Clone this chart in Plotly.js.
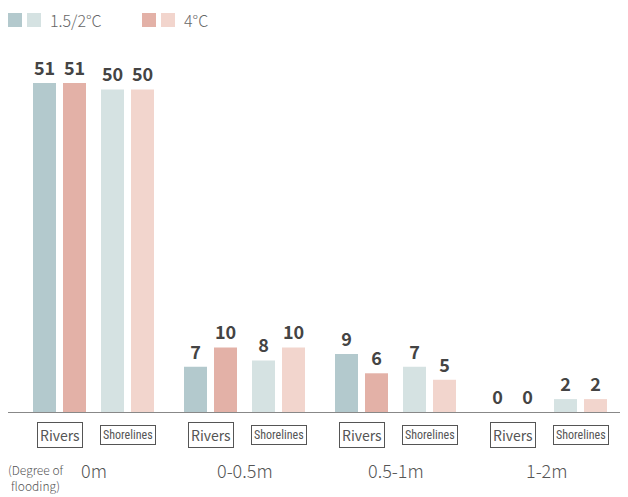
<!DOCTYPE html>
<html><head><meta charset="utf-8">
<script src="https://cdn.plot.ly/plotly-3.0.1.min.js"></script>
<style>html,body{margin:0;padding:0;background:#fff;}#chart{width:628px;height:497px;}</style>
</head><body><div id="chart"></div>
<script>
const groups = ["0m", "0-0.5m", "0.5-1m", "1-2m"];
const subcats = ["Rivers", "Shorelines"];
const scenarios = ["1.5/2°C", "4°C"];
const rivers15 = [51, 7, 9, 0];
const rivers4 = [51, 10, 6, 0];
const shore15 = [50, 8, 7, 2];
const shore4 = [50, 10, 5, 2];
const axisNote = "(Degree of<br>flooding)";

const colors = {
  "1.5/2°C": {Rivers: "#b3c9cd", Shorelines: "#d5e2e2"},
  "4°C": {Rivers: "#e3b1a7", Shorelines: "#f2d5cd"}
};

const PX = 151;           // pixels per group unit
const SUB = 34 / PX;      // subcategory offset
const BW = 23 / PX;       // bar width
const GAP = 3.5 / PX;     // half gap between pair

function subX(s){ return groups.map((g,i)=> i + (s===0 ? -SUB : SUB)); }
function mkTrace(vals, s, scen, off){
  return {
    type: "bar", x: subX(s), y: vals, width: BW, offset: off,
    marker: {color: colors[scen][subcats[s]]},
    text: vals.map(String), textposition: "outside", cliponaxis: false,
    textfont: {family: "Noto Sans CJK KR, Noto Sans, sans-serif", size: 18, color: "#444", weight: 700},
    hoverinfo: "skip", showlegend: false
  };
}
const data = [
  mkTrace(rivers15, 0, "1.5/2°C", -BW - GAP),
  mkTrace(rivers4, 0, "4°C", GAP),
  mkTrace(shore15, 1, "1.5/2°C", -BW - GAP),
  mkTrace(shore4, 1, "4°C", GAP)
];

const annotations = [];
const shapes = [];
groups.forEach((g, i) => {
  subcats.forEach((s, j) => {
    annotations.push({
      xref: "x", yref: "paper", x: i + (j===0 ? -SUB : SUB), y: 0, yanchor: "middle", yshift: -22.5,
      text: s, showarrow: false, bordercolor: "#555", borderwidth: 1, borderpad: 2,
      font: s === "Shorelines"
        ? {family: "Liberation Sans Narrow, Roboto Condensed, sans-serif", size: 12, color: "#555"}
        : {family: "Noto Sans CJK KR, sans-serif", size: 14, color: "#555"}
    });
  });
  annotations.push({
    xref: "x", yref: "paper", x: i, y: 0, yanchor: "middle", yshift: -58,
    text: g, showarrow: false,
    font: {family: "Noto Sans CJK KR, sans-serif", size: 18, color: "#555", weight: 300}
  });
});
annotations.push({
  xref: "paper", yref: "paper", x: 0, y: 0, xanchor: "left", yanchor: "middle", xshift: -2, yshift: -65,
  text: axisNote, showarrow: false, align: "center",
  font: {family: "Noto Sans CJK KR, sans-serif", size: 12, color: "#555", weight: 300}
});
// legend
const legendItems = [
  {label: scenarios[0], sq: [0, 19], textX: 40},
  {label: scenarios[1], sq: [134, 153], textX: 174}
];
legendItems.forEach((it, k) => {
  const scen = scenarios[k];
  [colors[scen].Rivers, colors[scen].Shorelines].forEach((c, m) => {
    shapes.push({
      type: "rect", xref: "paper", yref: "paper", xsizemode: "pixel", ysizemode: "pixel",
      xanchor: 0, yanchor: 1, x0: it.sq[m], x1: it.sq[m] + 14, y0: 13, y1: 27,
      fillcolor: c, line: {width: 0}
    });
  });
  annotations.push({
    xref: "paper", yref: "paper", x: 0, y: 1, xanchor: "left", yanchor: "middle",
    xshift: it.textX, yshift: 20, text: it.label, showarrow: false,
    font: {family: "Noto Sans CJK KR, sans-serif", size: 16, color: "#666", weight: 300}
  });
});

const layout = {
  width: 628, height: 497,
  margin: {l: 8, r: 8, t: 40, b: 85},
  paper_bgcolor: "#fff", plot_bgcolor: "#fff",
  xaxis: {range: [(8-93.5)/PX, (620-93.5)/PX], showticklabels: false, ticks: "", showgrid: false, zeroline: false,
          showline: true, linecolor: "#888", linewidth: 1, fixedrange: true},
  yaxis: {range: [0, 372/6.451], visible: false, showgrid: false, zeroline: false, fixedrange: true},
  barmode: "overlay",
  annotations: annotations, shapes: shapes, showlegend: false
};
Plotly.newPlot("chart", data, layout, {displayModeBar: false, staticPlot: true});
</script></body></html>
